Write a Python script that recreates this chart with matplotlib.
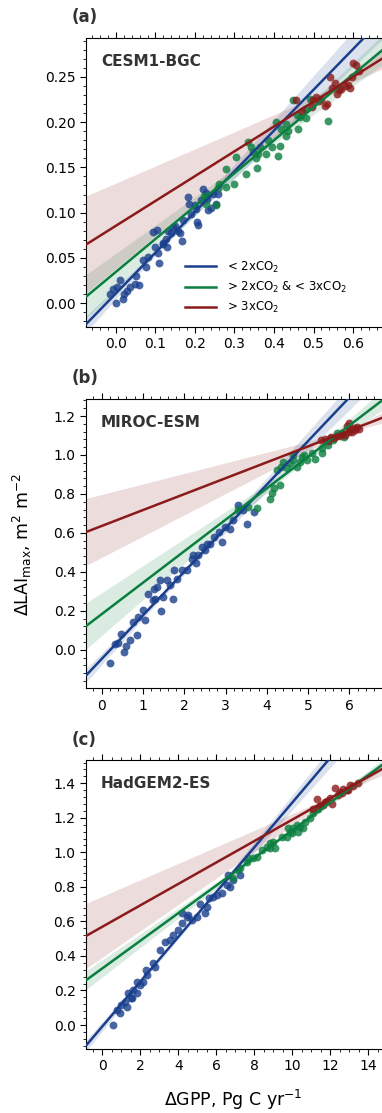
import numpy as np
import matplotlib.pyplot as plt
from matplotlib.ticker import AutoMinorLocator, MultipleLocator, FormatStrFormatter

# CESM1-BGC (panel a): dGPP vs dLAImax, split by CO2 level
cesm_x_lo = [-0.016, -0.008, 0.0, 0.003, 0.009, 0.018, 0.029, 0.047, 0.058, 0.068, 0.075, 0.081,
             0.094, 0.104, 0.100, 0.106, 0.109, 0.119, 0.127, 0.132, 0.138, 0.144, 0.157, 0.168,
             0.161, 0.182, 0.186, 0.191, 0.203, 0.205, 0.208, 0.216, 0.220, 0.227, 0.233, 0.246,
             0.254, 0.258, 0.05, 0.12, 0.15, 0.17, 0.23, 0.24, 0.20, 0.13, 0.02, 0.035]
cesm_y_lo = [0.010, 0.016, 0.000, 0.018, 0.025, 0.005, 0.013, 0.021, 0.020, 0.048, 0.040, 0.051,
             0.079, 0.081, 0.062, 0.055, 0.044, 0.066, 0.071, 0.080, 0.077, 0.084, 0.080, 0.069,
             0.077, 0.117, 0.110, 0.099, 0.104, 0.090, 0.086, 0.114, 0.126, 0.122, 0.103, 0.121,
             0.110, 0.121, 0.030, 0.065, 0.085, 0.092, 0.115, 0.105, 0.108, 0.062, 0.010, 0.018]
cesm_x_mid = [0.223, 0.229, 0.252, 0.258, 0.262, 0.278, 0.279, 0.300, 0.305, 0.330, 0.334, 0.343,
              0.355, 0.358, 0.360, 0.364, 0.381, 0.385, 0.394, 0.410, 0.414, 0.406, 0.418, 0.430,
              0.431, 0.448, 0.460, 0.465, 0.478, 0.482, 0.490, 0.537, 0.457, 0.347, 0.435]
cesm_y_mid = [0.118, 0.110, 0.108, 0.127, 0.132, 0.148, 0.128, 0.132, 0.162, 0.143, 0.178, 0.173,
              0.160, 0.149, 0.165, 0.173, 0.165, 0.180, 0.173, 0.163, 0.174, 0.200, 0.193, 0.185,
              0.198, 0.224, 0.193, 0.206, 0.215, 0.205, 0.226, 0.201, 0.208, 0.167, 0.190]
cesm_x_hi = [0.455, 0.470, 0.495, 0.498, 0.507, 0.515, 0.520, 0.528, 0.533, 0.541, 0.548, 0.554,
             0.559, 0.565, 0.570, 0.580, 0.587, 0.592, 0.598, 0.600, 0.608, 0.615]
cesm_y_hi = [0.224, 0.212, 0.217, 0.225, 0.228, 0.223, 0.226, 0.218, 0.220, 0.250, 0.238, 0.243,
             0.231, 0.236, 0.237, 0.240, 0.241, 0.238, 0.250, 0.266, 0.263, 0.257]

# MIROC-ESM (panel b)
miroc_x_lo = [0.20, 0.32, 0.40, 0.46, 0.53, 0.59, 0.69, 0.75, 0.85, 0.89, 0.99, 1.05, 1.25, 1.27,
              1.29, 1.40, 1.43, 1.49, 1.58, 1.66, 1.72, 1.82, 1.94, 2.06, 2.18, 2.29, 2.34, 2.42,
              2.50, 2.63, 2.71, 2.83, 2.91, 2.99, 3.11, 3.19, 3.31, 3.43, 3.51, 3.68, 1.13, 1.74,
              2.22, 2.54, 1.33]
miroc_y_lo = [-0.069, 0.027, 0.034, 0.082, -0.012, 0.017, 0.048, 0.142, 0.074, 0.168, 0.202, 0.151,
              0.254, 0.314, 0.262, 0.357, 0.199, 0.271, 0.357, 0.331, 0.262, 0.365, 0.408, 0.408,
              0.468, 0.446, 0.485, 0.528, 0.511, 0.545, 0.580, 0.605, 0.554, 0.631, 0.622, 0.665,
              0.742, 0.717, 0.648, 0.708, 0.288, 0.408, 0.485, 0.545, 0.322]
miroc_x_mid = [3.30, 3.55, 3.76, 4.08, 4.12, 4.16, 4.32, 4.24, 4.34, 4.40, 4.48, 4.56, 4.64, 4.73,
               4.81, 4.89, 4.97, 5.09, 5.17, 5.33, 5.33, 5.49, 5.53, 5.70, 5.86, 5.61, 4.64, 4.85]
miroc_y_mid = [0.715, 0.735, 0.730, 0.775, 0.805, 0.830, 0.845, 0.922, 0.940, 0.965, 0.931, 0.957,
               0.974, 0.940, 0.965, 0.999, 0.974, 1.008, 0.982, 1.008, 1.034, 1.051, 1.085, 1.115,
               1.090, 1.077, 0.999, 0.991]
miroc_x_hi = [5.30, 5.40, 5.48, 5.55, 5.62, 5.70, 5.76, 5.82, 5.88, 5.94, 5.98, 6.02, 6.06, 6.10,
              6.14, 6.18, 6.22, 6.00]
miroc_y_hi = [1.075, 1.080, 1.074, 1.090, 1.085, 1.100, 1.095, 1.112, 1.105, 1.150, 1.166, 1.133,
              1.118, 1.138, 1.126, 1.142, 1.132, 1.116]

# HadGEM2-ES (panel c)
had_x_lo = [0.54, 0.75, 0.93, 0.96, 1.19, 1.37, 1.49, 1.63, 1.81, 1.84, 1.98, 2.16, 2.30, 2.33,
            2.68, 2.77, 3.04, 3.30, 3.56, 3.74, 4.00, 4.18, 4.44, 4.53, 4.70, 4.96, 5.14, 5.40,
            5.49, 5.63, 5.84, 6.02, 6.28, 6.54, 6.63, 6.72, 6.89, 7.25, 4.18, 1.28, 1.54]
had_y_lo = [0.000, 0.087, 0.068, 0.116, 0.135, 0.183, 0.154, 0.203, 0.183, 0.251, 0.232, 0.251,
            0.319, 0.290, 0.357, 0.338, 0.434, 0.483, 0.492, 0.521, 0.550, 0.589, 0.627, 0.637,
            0.608, 0.627, 0.700, 0.647, 0.685, 0.734, 0.743, 0.753, 0.763, 0.810, 0.870, 0.801,
            0.840, 0.870, 0.647, 0.106, 0.154]
had_x_mid = [6.89, 7.16, 7.25, 7.60, 7.95, 8.12, 8.39, 8.65, 8.82, 9.00, 9.09, 9.44, 9.70, 9.79,
             9.88, 10.05, 10.23, 10.40, 10.58, 10.67, 10.93, 11.11, 11.37, 11.46, 9.96, 10.32,
             8.82, 7.68]
had_y_mid = [0.850, 0.900, 0.910, 0.946, 0.965, 0.975, 1.013, 1.033, 1.052, 1.062, 1.023, 1.091,
             1.091, 1.139, 1.120, 1.139, 1.158, 1.149, 1.139, 1.178, 1.197, 1.226, 1.250, 1.270,
             1.110, 1.120, 1.023, 0.965]
had_x_hi = [11.10, 11.28, 11.46, 11.60, 11.72, 11.85, 11.98, 12.07, 12.25, 12.40, 12.51, 12.60,
            12.68, 12.86, 13.04, 13.20, 13.47, 12.95]
had_y_hi = [1.252, 1.309, 1.266, 1.277, 1.290, 1.299, 1.312, 1.279, 1.372, 1.331, 1.352, 1.346,
            1.369, 1.362, 1.392, 1.386, 1.402, 1.364]

group_labels = [r"< 2xCO$_2$", r"> 2xCO$_2$ & < 3xCO$_2$", r"> 3xCO$_2$"]
colors = ["#1a3f8c", "#0a7f3f", "#8b1a1a"]


def fit_band(x, y, xs):
    # OLS fit plus 95% confidence band of the mean
    x = np.asarray(x)
    y = np.asarray(y)
    n = len(x)
    slope, icpt = np.polyfit(x, y, 1)
    pred = icpt + slope * xs
    resid = y - (icpt + slope * x)
    s = np.sqrt(np.sum(resid ** 2) / (n - 2))
    sxx = np.sum((x - x.mean()) ** 2)
    t = 1.96 + 2.4 / (n - 2)
    se = s * np.sqrt(1.0 / n + (xs - x.mean()) ** 2 / sxx)
    return pred, pred - t * se, pred + t * se


fig = plt.figure(figsize=(3.82, 11.13), dpi=100)
W, H = 382.0, 1113.0

panels = [
    ("(a)", "CESM1-BGC", (cesm_x_lo, cesm_y_lo), (cesm_x_mid, cesm_y_mid), (cesm_x_hi, cesm_y_hi),
     38, 327, (-0.0759, 0.6835), (-0.0265, 0.2931), 0.1, 0.05, "%.1f", "%.2f", 5, 17),
    ("(b)", "MIROC-ESM", (miroc_x_lo, miroc_y_lo), (miroc_x_mid, miroc_y_mid), (miroc_x_hi, miroc_y_hi),
     399.3, 688.3, (-0.380, 6.884), (-0.198, 1.286), 1, 0.2, "%d", "%.1f", 5, 378),
    ("(c)", "HadGEM2-ES", (had_x_lo, had_y_lo), (had_x_mid, had_y_mid), (had_x_hi, had_y_hi),
     760, 1049, (-0.858, 14.93), (-0.139, 1.535), 2, 0.2, "%d", "%.1f", 4, 740),
]

axes = []
for (tag, name, g1, g2, g3, top, bot, xlim, ylim, xstep, ystep, xfmt, yfmt, xminor, tag_y) in panels:
    ax = fig.add_axes([86 / W, 1 - bot / H, 300 / W, (bot - top) / H])
    xs = np.linspace(xlim[0], xlim[1], 200)
    for (gx, gy), c, lab in zip([g1, g2, g3], colors, group_labels):
        ax.scatter(gx, gy, s=32, color=c, alpha=0.8, linewidths=0, zorder=2)
        pred, lo, hi = fit_band(gx, gy, xs)
        ax.fill_between(xs, lo, hi, color=c, alpha=0.15, linewidth=0, zorder=1)
        ax.plot(xs, pred, color=c, lw=1.8, label=lab, zorder=3)
    ax.set_xlim(xlim)
    ax.set_ylim(ylim)
    ax.xaxis.set_major_locator(MultipleLocator(xstep))
    ax.yaxis.set_major_locator(MultipleLocator(ystep))
    ax.xaxis.set_major_formatter(FormatStrFormatter(xfmt))
    ax.yaxis.set_major_formatter(FormatStrFormatter(yfmt))
    ax.xaxis.set_minor_locator(AutoMinorLocator(xminor))
    ax.yaxis.set_minor_locator(AutoMinorLocator(5))
    ax.tick_params(which="both", direction="out", top=True, right=False, labelsize=10)
    ax.tick_params(which="major", length=4)
    ax.tick_params(which="minor", length=2.2)
    ax.text(0.05, 0.918, name, transform=ax.transAxes, fontsize=11, fontweight="bold",
            color="#333333", va="center", ha="left")
    fig.text(72 / W, 1 - tag_y / H, tag, fontsize=12, fontweight="bold", color="#333333",
             va="center", ha="left")
    axes.append(ax)

axes[0].legend(loc="upper left", bbox_to_anchor=(0.313, 0.25), frameon=False, fontsize=8.5,
               handlelength=2.7, handletextpad=0.9, labelspacing=0.45, borderaxespad=0)

fig.text(22 / W, 1 - 544 / H, r"$\Delta$LAI$_{\rm max}$, m$^2$ m$^{-2}$", rotation=90,
         fontsize=12.5, va="center", ha="center")
fig.text(233 / W, 1 - 1100 / H, r"$\Delta$GPP, Pg C yr$^{-1}$", fontsize=12.5,
         va="center", ha="center")

fig.savefig("out.png", dpi=100)
